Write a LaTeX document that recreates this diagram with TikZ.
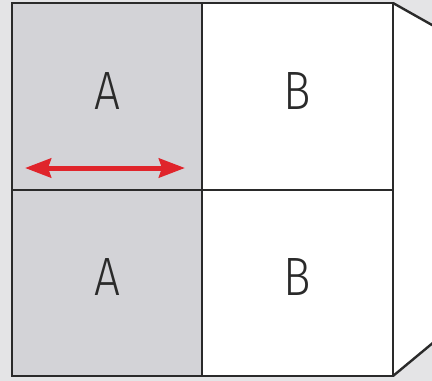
\documentclass[tikz,border=0pt]{standalone}
\usepackage{fontspec}
\setmainfont{Fira Sans Light}[FakeStretch=0.85]
\usepackage{tikz}
\usetikzlibrary{arrows.meta}

\definecolor{bggray}{HTML}{E4E4E6}
\definecolor{cellgray}{HTML}{D3D3D7}
\definecolor{gridline}{HTML}{2A2A2A}
\definecolor{arrowred}{HTML}{E0242B}

\tikzset{
  letter/.style={font=\fontsize{54}{54}\selectfont, text=gridline, inner sep=0pt},
  gridln/.style={draw=gridline, line width=2.4pt},
}

\begin{document}
\begin{tikzpicture}[x=1pt, y=-1pt, >={Stealth[length=26pt, width=19pt, inset=3pt]}]
        % Background
        \useasboundingbox (0,0) rectangle (432,381);
        \fill [bggray] (0,0) rectangle (432,381);
        \clip (0,0) rectangle (432,381);
        % Panels
        \fill [cellgray] (12,3) rectangle (202,376);
        \fill [white] (202,3) rectangle (393,376);
        \fill [white] (393,3) -- (440,29.5) -- (440,337) -- (393,376) -- cycle;
        % Lines
        \draw [gridln] (12,3) rectangle (393,376);
        \draw [gridln] (202,3) -- (202,376);
        \draw [gridln] (12,190) -- (393,190);
        \draw [gridln] (393,3) -- (440,29.5);
        \draw [gridln] (393,376) -- (440,337);

        % Letters
        \node [letter] (topA) at (107,91) {A};
        \node [letter] (topB) at (297,91) {B};
        \node [letter] (botA) at (107,277) {A};
        \node [letter] (botB) at (297,277) {B};

        % Width arrow
        \coordinate (arrL) at (25,168);
        \coordinate (arrR) at (185,168);
        \draw [<->, arrowred, line width=5pt] (arrL) -- (arrR);
    \end{tikzpicture}
\end{document}
